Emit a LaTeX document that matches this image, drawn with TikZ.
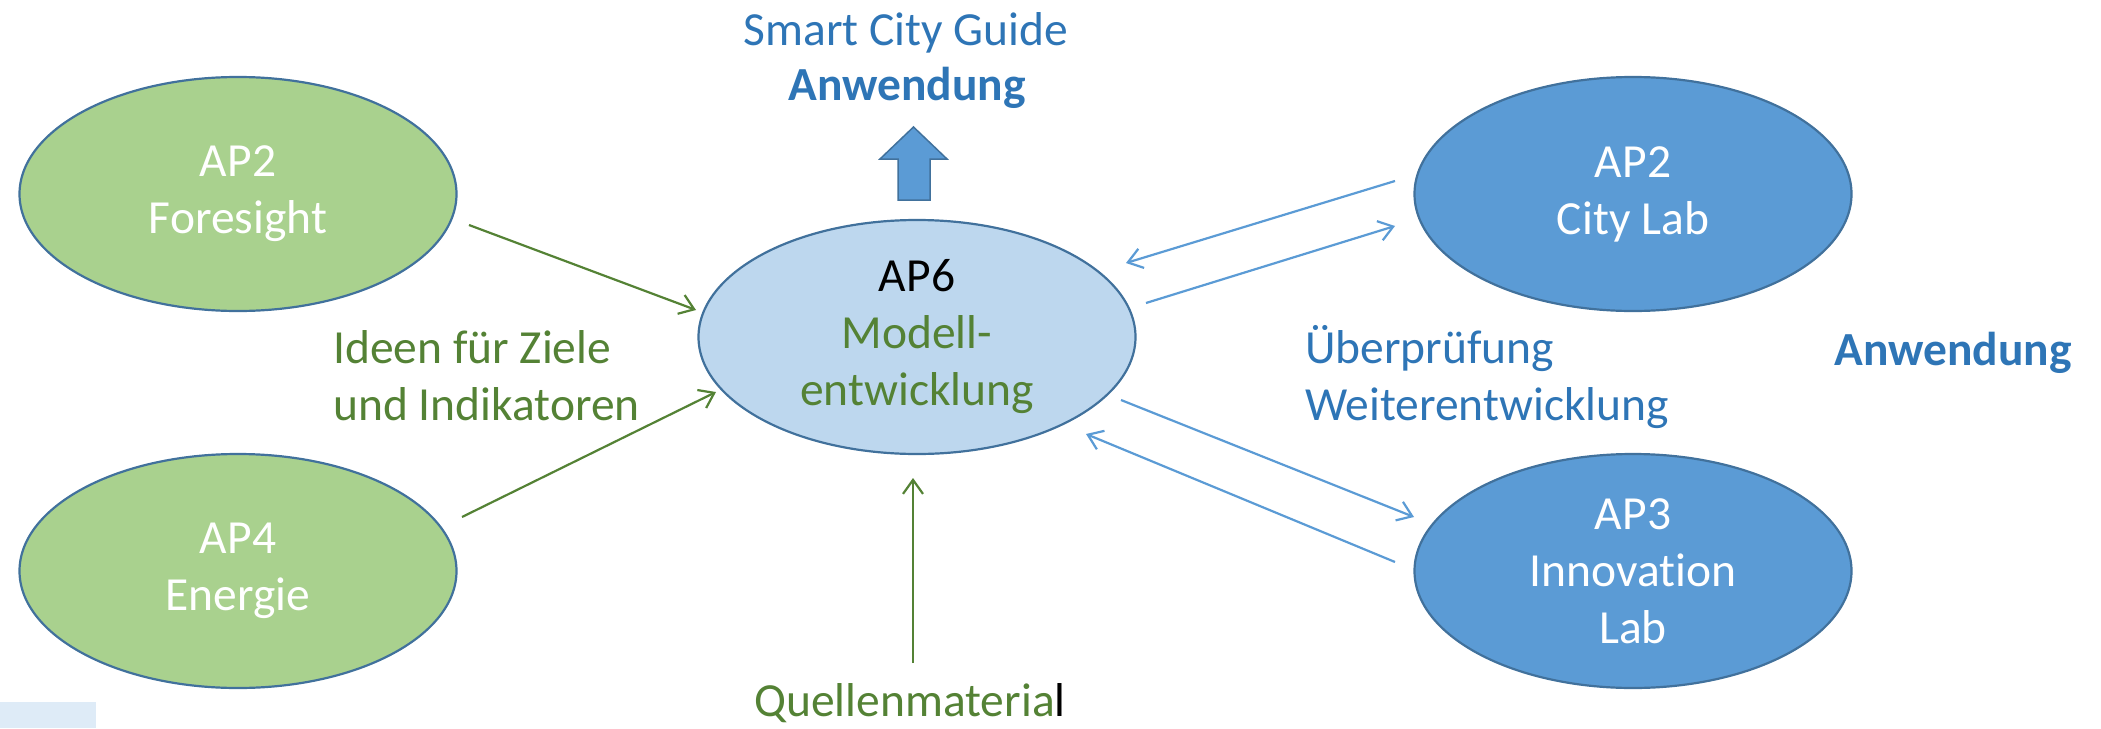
\documentclass[tikz,border=0pt]{standalone}
\usepackage{fontspec}
\setmainfont{Carlito}[Ligatures=NoCommon]
\usetikzlibrary{shapes.geometric,arrows.meta}
\definecolor{gfill}{HTML}{A9D18E}
\definecolor{bfill}{HTML}{5B9BD5}
\definecolor{lfill}{HTML}{BDD7EE}
\definecolor{edgec}{HTML}{41719C}
\definecolor{gtext}{HTML}{548235}
\definecolor{btext}{HTML}{2E75B6}
\definecolor{barr}{HTML}{5B9BD5}
\definecolor{cornerc}{HTML}{DEEBF7}
\newcommand{\dfont}{\fontsize{47.5}{57}\selectfont}
\begin{document}
\begin{tikzpicture}[x=1pt,y=-1pt,
  ap/.style={ellipse, draw=edgec, line width=2.2pt, minimum width=437pt, minimum height=234pt, inner sep=0pt, align=center, font=\dfont, execute at begin node={\rule{0pt}{42pt}}},
  gap/.style={ap, fill=gfill, text=white},
  bap/.style={ap, fill=bfill, text=white},
  lap/.style={ap, fill=lfill, text=black},
  lbl/.style={anchor=base, inner sep=0pt, font=\dfont},
  lblw/.style={lbl, anchor=base west},
  garrow/.style={draw=gtext, line width=2.2pt, -{Straight Barb[length=14pt,width=20pt]}},
  barrow/.style={draw=barr, line width=2.2pt, -{Straight Barb[length=14pt,width=20pt]}},
]
\useasboundingbox (0,0) rectangle (2101,728);
\fill[cornerc] (0,702) rectangle (96,728);

\node[gap] (fore) at (238,194) {AP2\\Foresight};
\node[gap] (ener) at (238,571) {AP4\\Energie};
\node[bap] (city) at (1633,194) {AP2\\City Lab};
\node[bap] (inno) at (1633,571) {AP3\\Innovation\\Lab};
\node[lap] (mod) at (917,337) {AP6\\\textcolor{gtext}{Modell-}\\\textcolor{gtext}{entwicklung}};

\node[lbl, text=btext] (scg) at (906,45) {Smart City Guide};
\node[lbl, text=btext, font=\dfont\bfseries] (anw1) at (907,100) {Anwendung};
\node[lblw, text=gtext] (ide1) at (333,363) {Ideen für Ziele};
\node[lblw, text=gtext] (ide2) at (333,420) {und Indikatoren};
\node[lblw, text=btext] (ueb1) at (1305,363) {Überprüfung};
\node[lblw, text=btext] (ueb2) at (1305,420) {Weiterentwicklung};
\node[lblw, text=btext, font=\dfont\bfseries] (anw2) at (1834,365) {Anwendung};
\node[lbl, text=gtext] (quel) at (910,716) {Quellenmateria\textcolor{black}{l}};

\draw[fill=bfill, draw=edgec, line width=1.5pt] (898,200) -- (898,159) -- (880,159) -- (913.5,127) -- (947,159) -- (930,159) -- (930,200) -- cycle;

\coordinate (f1) at (469,225); \coordinate (f2) at (696,310);
\coordinate (e1) at (462,517); \coordinate (e2) at (716,392);
\coordinate (q1) at (913,663); \coordinate (q2) at (913,478);
\coordinate (c1) at (1395,181); \coordinate (c2) at (1126,263);
\coordinate (c3) at (1146,303); \coordinate (c4) at (1395,226);
\coordinate (i1) at (1121,400); \coordinate (i2) at (1414,517);
\coordinate (i3) at (1395,562); \coordinate (i4) at (1086,434);

\draw[garrow] (f1) -- (f2);
\draw[garrow] (e1) -- (e2);
\draw[garrow] (q1) -- (q2);
\draw[barrow] (c1) -- (c2);
\draw[barrow] (c3) -- (c4);
\draw[barrow] (i1) -- (i2);
\draw[barrow] (i3) -- (i4);
\end{tikzpicture}
\end{document}
